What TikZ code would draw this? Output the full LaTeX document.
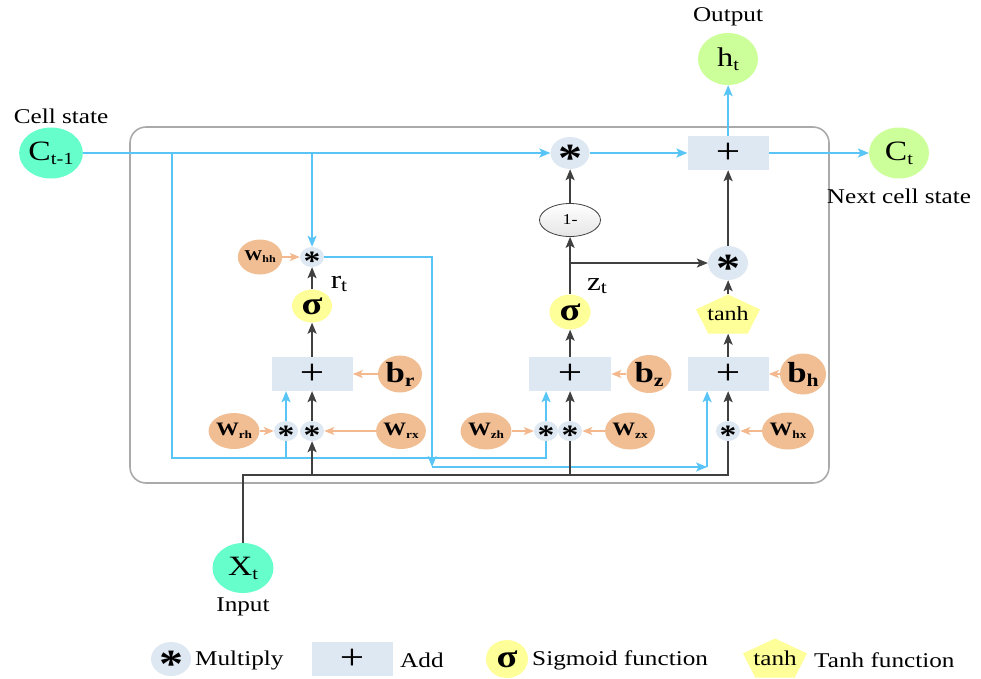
\documentclass[tikz,border=0pt]{standalone}
\usepackage{fontspec}
\setmainfont{Liberation Serif}
\usetikzlibrary{arrows.meta,shapes.geometric}
\pgfdeclarelayer{bg}
\pgfsetlayers{bg,main}
\definecolor{bl}{RGB}{89,197,247}
\definecolor{dk}{RGB}{64,64,64}
\definecolor{orl}{RGB}{243,184,142}
\definecolor{orf}{RGB}{241,190,148}
\definecolor{mint}{RGB}{102,255,204}
\definecolor{lgr}{RGB}{204,255,153}
\definecolor{yel}{RGB}{255,255,153}
\definecolor{opf}{RGB}{222,232,242}
\definecolor{brd}{RGB}{170,170,170}
\newcommand{\fs}[1]{\fontsize{#1}{#1}\selectfont}
\newcommand{\lowsub}[2]{\raisebox{-0.3ex}{\fs{#1}#2}}
\newcommand{\astk}[1]{{\fs{#1}\bfseries\raisebox{-0.47em}[0pt][0pt]{*}}}
\newcommand{\plussym}{{\fs{36}+}}
\newcommand{\sig}{{\fs{32}\bfseries σ}}
\newcommand{\Wt}[3]{{\fs{#1}\bfseries W\lowsub{#2}{#3}}}
\newcommand{\bt}[1]{{\fs{29}\bfseries b\lowsub{18}{#1}}}
\newcommand{\vlab}[4]{{\fs{#1}#2\lowsub{#3}{#4}}}
\newcommand{\mypenta}[2]{\fill[yel] (#1,#2-19.5) -- (#1+32,#2-4.6) -- (#1+19.8,#2+19.5) -- (#1-19.8,#2+19.5) -- (#1-32,#2-4.6) -- cycle;}
\begin{document}
\begin{tikzpicture}[x=0.83333pt,y=-1pt,xscale=1.2,
  every node/.style={transform shape},
  ell/.style n args={2}{ellipse,minimum width={#1pt/1.2},minimum height=#2pt,inner sep=0pt},
  box/.style n args={2}{rectangle,minimum width={#1pt/1.2},minimum height=#2pt,inner sep=0pt,fill=opf},
  txt/.style={inner sep=0pt,font=\fs{21}},
  bline/.style={draw=bl,line width=1.7pt},
  dline/.style={draw=dk,line width=1.7pt},
  oline/.style={draw=orl,line width=1.7pt},
  tip/.style={-{Stealth[length=11pt,width=9pt,inset=2.5pt]}},
  otip/.style={-{Stealth[length=10pt,width=8pt,inset=2.5pt]}}]
\useasboundingbox (0,0) rectangle (981,678);

% outer nodes
\node[ell={60}{51},fill=mint] (Ctm1) at (51,153) {\vlab{28}{C}{17}{t-1}};
\node[ell={60}{52},fill=lgr] (ht) at (728,59) {\vlab{27}{h}{17}{t}};
\node[ell={60}{51},fill=lgr] (Ct) at (899,153) {\vlab{28}{C}{17}{t}};
\node[ell={61}{50},fill=mint] (Xt) at (243,568) {\vlab{28}{X}{17}{t}};
\node[txt] (lcell) at (61,116) {Cell state};
\node[txt] (lout) at (728,17) {Output};
\node[txt] (lnext) at (899,196) {Next cell state};
\node[txt] (lin) at (243,607) {Input};

% h column
\node[ell={39}{32},fill=opf] (mTop) at (570,153) {\astk{40}};
\node[box={81}{34}] (addTop) at (728,153) {\plussym};
\node[ell={61}{33},top color=white,bottom color=black!10,draw=dk,line width=0.8pt] (om) at (570,220) {\fs{15}1-};
\node[ell={40}{34},fill=opf] (mZ) at (728,263) {\astk{40}};
\mypenta{728}{314}
\node[rectangle,minimum width={64pt/1.2},minimum height=39pt,inner sep=0pt] (tanh) at (728,314) {\fs{20}tanh};
\node[box={81}{34}] (addH) at (728,374) {\plussym};
\node[ell={46}{41},fill=orf] (bh) at (803,374) {\bt{h}};
\node[ell={24}{20},fill=opf] (mHX) at (728,431) {\astk{28}};
\node[ell={46}{37},fill=orf] (Whx) at (788,431) {\Wt{19}{11}{hx}};

% z column
\node[ell={41}{35},fill=yel] (sZ) at (570,312) {\sig};
\node[box={82}{34}] (addZ) at (570,374) {\plussym};
\node[ell={45}{38},fill=orf] (bz) at (649,374) {\bt{z}};
\node[ell={24}{20},fill=opf] (mZH) at (546,431) {\astk{28}};
\node[ell={24}{20},fill=opf] (mZX) at (570,431) {\astk{28}};
\node[ell={45}{37},fill=orf] (Wzh) at (486,431) {\Wt{19}{11}{zh}};
\node[ell={46}{37},fill=orf] (Wzx) at (630,431) {\Wt{19}{11}{zx}};
\node[inner sep=0pt] (zt) at (597,286) {\vlab{26}{z}{18}{t}};

% r column
\node[ell={24}{20},fill=opf] (mHH) at (312,257) {\astk{28}};
\node[ell={40}{35},fill=orf] (Whh) at (260,257) {\Wt{15}{10}{hh}};
\node[ell={40}{33},fill=yel] (sR) at (312,306) {\sig};
\node[box={81}{34}] (addR) at (312,374) {\plussym};
\node[ell={44}{37},fill=orf] (br) at (400,374) {\bt{r}};
\node[ell={24}{20},fill=opf] (mRH) at (286,431) {\astk{28}};
\node[ell={24}{20},fill=opf] (mRX) at (312,431) {\astk{28}};
\node[ell={42}{36},fill=orf] (Wrh) at (234,431) {\Wt{19}{11}{rh}};
\node[ell={43}{36},fill=orf] (Wrx) at (401,431) {\Wt{19}{11}{rx}};
\node[inner sep=0pt] (rt) at (339,284) {\vlab{26}{r}{18}{t}};

% legend
\node[ell={40}{34},fill=opf] (lgM) at (171,659) {\astk{40}};
\node[txt,anchor=west] (lgMt) at (195,660) {Multiply};
\node[box={81}{34}] (lgA) at (352,659) {\plussym};
\node[txt,anchor=west] (lgAt) at (400,660) {Add};
\node[ell={42}{38},fill=yel] (lgS) at (507,659) {\sig};
\node[txt,anchor=west] (lgSt) at (532,660) {Sigmoid function};
\mypenta{775}{658}
\node[rectangle,minimum width={64pt/1.2},minimum height=39pt,inner sep=0pt] (lgT) at (775,658) {\fs{21}tanh};
\node[txt,anchor=west] (lgTt) at (814,660) {Tanh function};

\begin{pgfonlayer}{bg}
\draw[brd,line width=1.6pt,rounded corners=16pt] (130,127) rectangle (829,483);
\coordinate (tB1) at (172,153);
\coordinate (bB1) at (172,458);
\coordinate (tHH) at (312,153);
\coordinate (c1) at (432,257);
\coordinate (c2) at (432,467);
\coordinate (c3) at (707,467);
\coordinate (bk) at (243,475);
\coordinate (zb) at (570,263);
% blue
\draw[bline,tip] (Ctm1.east) -- (mTop.west);
\draw[bline,tip] (mTop.east) -- (addTop.west);
\draw[bline,tip] (addTop.east) -- (Ct.west);
\draw[bline,tip] (addTop.north) -- (ht.south);
\draw[bline,tip] (tB1) -- (bB1) -- (mZH |- bB1) -- (mZH |- addZ.south);
\draw[bline,tip] (mRH |- bB1) -- (mRH |- addR.south);
\draw[bline,tip] (tHH) -- (mHH.north);
\draw[bline,tip] (mHH.east) -- (c1) -- (c2);
\draw[bline,tip] (c2) -- (c3);
\draw[bline,tip] (c3) -- (c3 |- addH.south);
% dark
\draw[dline,tip] (sR.north) -- (mHH.south);
\draw[dline,tip] (addR.north) -- (sR.south);
\draw[dline,tip] (mRX.north) -- (mRX |- addR.south);
\draw[dline,tip] (mRX |- bk) -- (mRX.south);
\draw[dline] (Xt.north) -- (bk) -- (mHX |- bk) -- (mHX.south);
\draw[dline] (mZX |- bk) -- (mZX.south);
\draw[dline,tip] (mZX.north) -- (mZX |- addZ.south);
\draw[dline,tip] (addZ.north) -- (sZ.south);
\draw[dline,tip] (sZ.north) -- (om.south);
\draw[dline,tip] (om.north) -- (mTop.south);
\draw[dline,tip] (zb) -- (mZ.west);
\draw[dline,tip] (mHX.north) -- (mHX |- addH.south);
\draw[dline,tip] (addH.north) -- (tanh.south);
\draw[dline,tip] (tanh.north) -- (mZ.south);
\draw[dline,tip] (mZ.north) -- (addTop.south);
% orange
\draw[oline,otip] (Whh.east) -- (mHH.west);
\draw[oline,otip] (br.west) -- (addR.east);
\draw[oline,otip] (Wrh.east) -- (mRH.west);
\draw[oline,otip] (Wrx.west) -- (mRX.east);
\draw[oline,otip] (bz.west) -- (addZ.east);
\draw[oline,otip] (Wzh.east) -- (mZH.west);
\draw[oline,otip] (Wzx.west) -- (mZX.east);
\draw[oline,otip] (bh.west) -- (addH.east);
\draw[oline,otip] (Whx.west) -- (mHX.east);
\end{pgfonlayer}
\end{tikzpicture}
\end{document}
